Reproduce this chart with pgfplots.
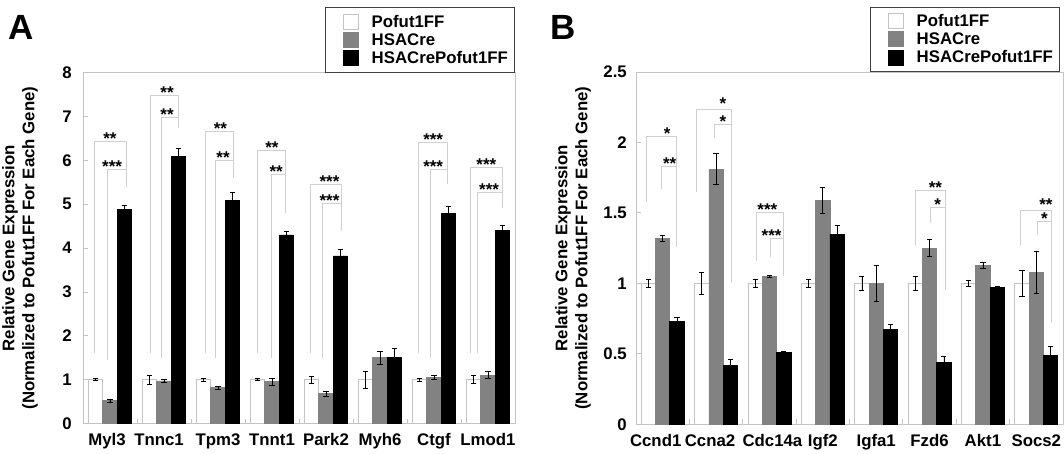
\documentclass[border=0pt]{standalone}
\usepackage{fontspec}
\setmainfont{Liberation Sans}
\usepackage{pgfplots}
\pgfplotsset{compat=1.18}
\usepackage{pgfplotstable}

\definecolor{bargray}{RGB}{130,130,130}
\definecolor{framegray}{RGB}{196,196,196}
\definecolor{brkgray}{RGB}{208,208,208}

\newcommand{\txt}{\fontsize{16.8}{20}\selectfont\bfseries}

% x = gene, w/g/b = Pofut1FF / HSACre / HSACrePofut1FF, *e = error
\pgfplotstableread{
x w we g ge b be
0 1.00 0.02 0.52 0.03 4.89 0.09
1 1.00 0.10 0.97 0.04 6.08 0.19
2 1.00 0.03 0.82 0.03 5.09 0.18
3 1.00 0.02 0.95 0.07 4.30 0.09
4 1.00 0.08 0.68 0.05 3.82 0.15
5 1.00 0.19 1.50 0.14 1.50 0.21
6 1.00 0.03 1.05 0.04 4.79 0.17
7 1.00 0.09 1.10 0.08 4.40 0.11
}\dataA

\pgfplotstableread{
x w we g ge b be
0 1.00 0.03 1.32 0.02 0.73 0.03
1 1.00 0.08 1.81 0.11 0.42 0.04
2 1.00 0.03 1.05 0.005 0.51 0.01
3 1.00 0.03 1.59 0.09 1.35 0.06
4 1.00 0.05 1.00 0.13 0.67 0.04
5 1.00 0.05 1.25 0.06 0.44 0.04
6 1.00 0.02 1.13 0.02 0.97 0.01
7 1.00 0.09 1.08 0.15 0.49 0.06
}\dataB

\pgfplotsset{
  genebars/.style={
    scale only axis, anchor=south west,
    xmin=-0.5, xmax=7.5, ymin=0,
    axis line style={draw=framegray, line width=0.9pt},
    tick style={draw=framegray, line width=0.9pt},
    tick align=inside, major tick length=5pt,
    xtick pos=bottom, ytick pos=left,
    xtick={0.5,1.5,...,6.5}, xticklabels={},
    extra x ticks={0,...,7},
    extra x tick style={major tick length=0pt},
    tick label style={font=\txt},
    /pgf/number format/assume math mode=true,
    xticklabel style={inner sep=0pt, yshift=-10pt},
    every axis y label/.style={at={([xshift=-63pt]rel axis cs:0,0.5)}, rotate=90,
      anchor=center, font=\txt, align=center},
    ylabel={Relative Gene Expression\\(Normalized to Pofut1FF For Each Gene)},
    legend style={at={(rel axis cs:1,1)}, anchor=south east, draw=black!75,
      line width=0.9pt, fill=white, font=\txt, inner xsep=6.6pt, inner ysep=6.2pt,
      row sep=2.3pt, column sep=13pt, nodes={inner sep=0pt}},
    legend cell align=left,
    legend image code/.code={\path[draw=none, fill=none] (0pt,0pt) -- (11.4pt,0pt);
      \draw[##1, line width=0.8pt] (11.4pt,-7.5pt) rectangle (26.4pt,7.5pt);},
    clip=false,
  },
  errs/.style={error bars/.cd, y dir=both, y explicit,
    error bar style={black, line width=0.7pt},
    error mark options={rotate=90, black, mark size=2.6pt, line width=0.7pt}},
  brk/.style={draw=brkgray, line width=0.9pt},
}
\tikzset{starlbl/.style={anchor=south, inner sep=0pt, yshift=4pt,
  text height=5pt, text depth=0pt, font=\fontsize{17}{17}\selectfont\bfseries}}
\newcommand{\st}[1]{\raisebox{-0.42em}{#1}}

% outer bracket: [star raise] x left, y bottom, y top, x right, y right bottom, star x, stars
\newcommand{\obrk}[8][0pt]{%
  \addplot[brk] coordinates {(#2,#3) (#2,#4) (#5,#4) (#5,#6)};
  \node[starlbl, yshift=#1] at (axis cs:#7,#4) {\st{#8}};}
% inner bracket: x left, y bottom, y top, x right, star x, stars
\newcommand{\ibrk}[6]{%
  \addplot[brk] coordinates {(#1,#2) (#1,#3) (#4,#3)};
  \node[starlbl] at (axis cs:#5,#3) {\st{#6}};}

\begin{document}
\begin{tikzpicture}
\useasboundingbox (0pt,0pt) rectangle (1064pt,-454pt);

\node[anchor=north west, inner sep=0pt, font=\fontsize{35}{35}\selectfont\bfseries] at (8pt,-15pt) {A};
\node[anchor=north west, inner sep=0pt, font=\fontsize{35}{35}\selectfont\bfseries] at (550pt,-15pt) {B};

% ---------- panel A ----------
\begin{axis}[genebars,
  at={(83pt,-423.5pt)}, width=432pt, height=350.8pt,
  ymax=8, ytick={0,...,8},
  yticklabel style={inner sep=0pt, xshift=-11pt},
  extra x tick labels={\hspace*{-6pt}Myl3,\hspace*{-10pt}Tnnc1,Tpm3,Tnnt1,Park2,Myh6,Ctgf,Lmod1},
]
\addplot[ybar, bar width=0.265, bar shift=0, fill=white, draw=framegray, line width=0.8pt, errs]
  table[x expr=\thisrow{x}-0.265, y=w, y error=we] {\dataA};
\addplot[ybar, bar width=0.265, bar shift=0, fill=bargray, draw=bargray, line width=0.8pt, errs]
  table[x=x, y=g, y error=ge] {\dataA};
\addplot[ybar, bar width=0.265, bar shift=0, fill=black, draw=black, line width=0.8pt, errs]
  table[x expr=\thisrow{x}+0.265, y=b, y error=be] {\dataA};
\legend{Pofut1FF,HSACre,HSACrePofut1FF}

\obrk{-0.296}{1.6}{6.44}{0.296}{5.40}{0.00}{**}
\ibrk{-0.04}{1.45}{5.80}{0.296}{0.04}{***}
\obrk{0.743}{1.6}{7.47}{1.259}{6.73}{1.056}{**}
\ibrk{0.96}{1.5}{6.98}{1.259}{1.056}{**}
\obrk{1.77}{1.6}{6.65}{2.285}{5.59}{2.044}{**}
\ibrk{1.96}{1.5}{6.00}{2.285}{2.094}{**}
\obrk{2.73}{1.6}{6.22}{3.24}{4.80}{3.00}{**}
\ibrk{2.99}{1.5}{5.67}{3.24}{3.078}{**}
\obrk{3.72}{1.6}{5.45}{4.29}{4.40}{4.065}{***}
\ibrk{3.94}{1.5}{5.01}{4.29}{4.065}{***}
\obrk{5.71}{1.6}{6.40}{6.25}{5.46}{5.985}{***}
\ibrk{5.93}{1.5}{5.80}{6.25}{5.985}{***}
\obrk{6.67}{1.6}{5.84}{7.27}{4.91}{6.97}{***}
\ibrk{6.80}{1.6}{5.27}{7.27}{7.02}{***}
\end{axis}

% ---------- panel B ----------
\begin{axis}[genebars,
  at={(636pt,-424.3pt)}, width=427pt, height=352.3pt,
  ymax=2.5, ytick={0,0.5,1,1.5,2,2.5},
  yticklabel style={inner sep=0pt, xshift=-9pt},
  extra x tick labels={\hspace*{-14pt}Ccnd1,\hspace*{-12pt}Ccna2,Cdc14a\hspace*{-6pt},Igf2,Igfa1,Fzd6,Akt1,Socs2},
  legend style={xshift=-3pt},
]
\addplot[ybar, bar width=0.268, bar shift=0, fill=white, draw=framegray, line width=0.8pt, errs]
  table[x expr=\thisrow{x}-0.268, y=w, y error=we] {\dataB};
\addplot[ybar, bar width=0.268, bar shift=0, fill=bargray, draw=bargray, line width=0.8pt, errs]
  table[x=x, y=g, y error=ge] {\dataB};
\addplot[ybar, bar width=0.268, bar shift=0, fill=black, draw=black, line width=0.8pt, errs]
  table[x expr=\thisrow{x}+0.268, y=b, y error=be] {\dataB};
\legend{Pofut1FF,HSACre,HSACrePofut1FF}

\obrk{-0.307}{1.58}{2.04}{0.26}{1.26}{0.086}{*}
\ibrk{-0.032}{1.67}{1.83}{0.26}{0.13}{**}
\obrk[3pt]{0.64}{1.65}{2.236}{1.29}{1.00}{1.13}{*}
\ibrk{0.967}{2.03}{2.128}{1.29}{1.13}{*}
\obrk{1.76}{1.16}{1.50}{2.27}{1.05}{1.96}{***}
\ibrk{2.01}{1.19}{1.32}{2.27}{2.04}{***}
\obrk{4.74}{1.27}{1.66}{5.29}{0.95}{5.11}{**}
\ibrk{5.02}{1.43}{1.536}{5.29}{5.15}{*}
\obrk[3pt]{6.71}{1.27}{1.52}{7.29}{0.716}{7.18}{**}
\ibrk{7.02}{1.34}{1.437}{7.29}{7.15}{*}
\end{axis}
\end{tikzpicture}
\end{document}
